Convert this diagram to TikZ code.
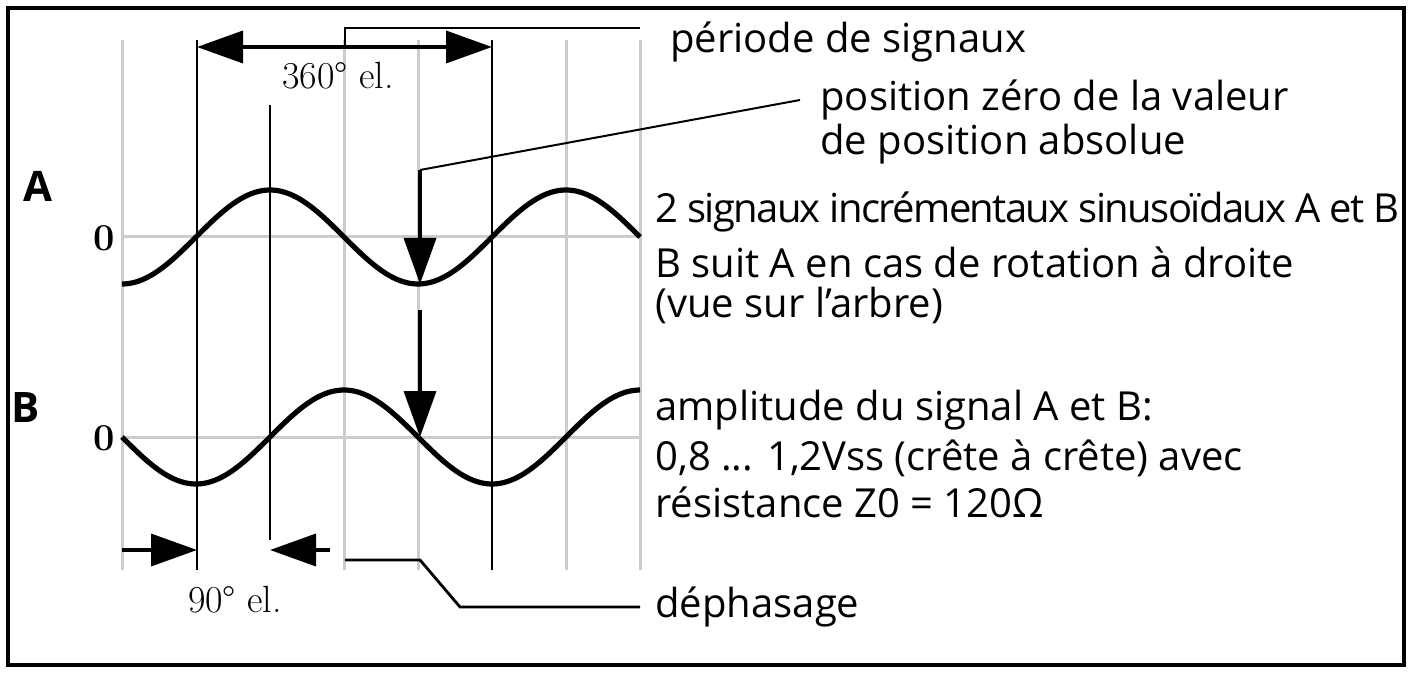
\documentclass[tikz,border=0pt]{standalone}
\usepackage{fontspec}
\setsansfont{Open Sans}
\usetikzlibrary{arrows.meta}
\begin{document}
\begin{tikzpicture}[x=0.5pt,y=-0.5pt,
  grid/.style={gray!40,line width=1.5pt},
  blk/.style={black,line width=1.4pt},
  wave/.style={black,line width=2.6pt},
  big/.style={-{Triangle[length=23pt,width=16pt]},line width=1.8pt},
  lbl/.style={font=\sffamily\fontsize{20}{20}\selectfont,anchor=west,inner sep=0pt},
  ser/.style={font=\fontsize{19}{19}\selectfont,inner sep=0pt}]
\useasboundingbox (0,0) rectangle (1412,673);
\draw[line width=1.6pt] (8,8) rectangle (1404,665);
% grid
\foreach \x in {122,344,418,566,640} \draw[grid] (\x,40) -- (\x,570);
\draw[grid] (122,237) -- (640,237);
\draw[grid] (122,437) -- (640,437);
% black verticals
\draw[blk] (197,40) -- (197,570);
\draw[blk] (270,105) -- (270,540);
\draw[blk] (492,40) -- (492,570);
% waves
\draw[wave] plot[domain=122:640,samples=150] (\x,{237-47*sin(1.216216*(\x-196))});
\draw[wave] plot[domain=122:640,samples=150] (\x,{437+47*sin(1.216216*(\x-122))});
% top arrows
\coordinate (tl) at (197,47); \coordinate (tr) at (492,47); \coordinate (tm) at (345,47);
\draw[big] (tm) -- (tl);
\draw[big] (tm) -- (tr);
\coordinate (pe) at (640,28);
\draw[blk] (tm) -- (345,28) -- (pe);
\node[lbl] (per) at (670,42) {période de signaux};
\node[ser] (d360) at (338,76) {360° el.};
% zero position arrows
\coordinate (za) at (420,170); \coordinate (zb) at (420,284);
\draw[big] (za) -- (zb);
\coordinate (zl) at (800,100);
\draw[line width=1pt] (za) -- (zl);
\coordinate (zc) at (420,310); \coordinate (zd) at (420,437);
\draw[big] (zc) -- (zd);
\node[lbl] (pz1) at (820,100) {position zéro de la valeur};
\node[lbl] (pz2) at (820,144) {de position absolue};
% bottom
\coordinate (bl) at (122,550); \coordinate (bla) at (197,550);
\coordinate (br) at (330,550); \coordinate (bra) at (270,550);
\draw[big] (bl) -- (bla);
\draw[big] (br) -- (bra);
\node[ser] (d90) at (235,600) {90° el.};
\coordinate (dl) at (345,560);
\draw[blk] (dl) -- (420,560) -- (460,607) -- (640,607);
\node[lbl] (dep) at (655,607) {déphasage};
% side labels
\node[font=\sffamily\bfseries\fontsize{21}{21}\selectfont] (A) at (38,186) {A};
\node[font=\sffamily\bfseries\fontsize{21}{21}\selectfont] (B) at (26,408) {B};
\node[font=\bfseries\fontsize{19}{19}\selectfont] (z1) at (104,238) {0};
\node[font=\bfseries\fontsize{19}{19}\selectfont] (z2) at (104,438) {0};
% right texts
\node[lbl] (t1) at (655,212) {\addfontfeature{LetterSpace=-4}2 signaux incrémentaux sinusoïdaux A et B};
\node[lbl] (t2) at (655,262) {B suit A en cas de rotation à droite};
\node[lbl] (t3) at (655,305) {(vue sur l’arbre)};
\node[lbl] (t4) at (655,410) {amplitude du signal A et B:};
\node[lbl] (t5) at (655,458) {0,8 ... 1,2Vss (crête à crête) avec};
\node[lbl] (t6) at (655,502) {résistance Z0 = 120Ω};
\end{tikzpicture}
\end{document}
